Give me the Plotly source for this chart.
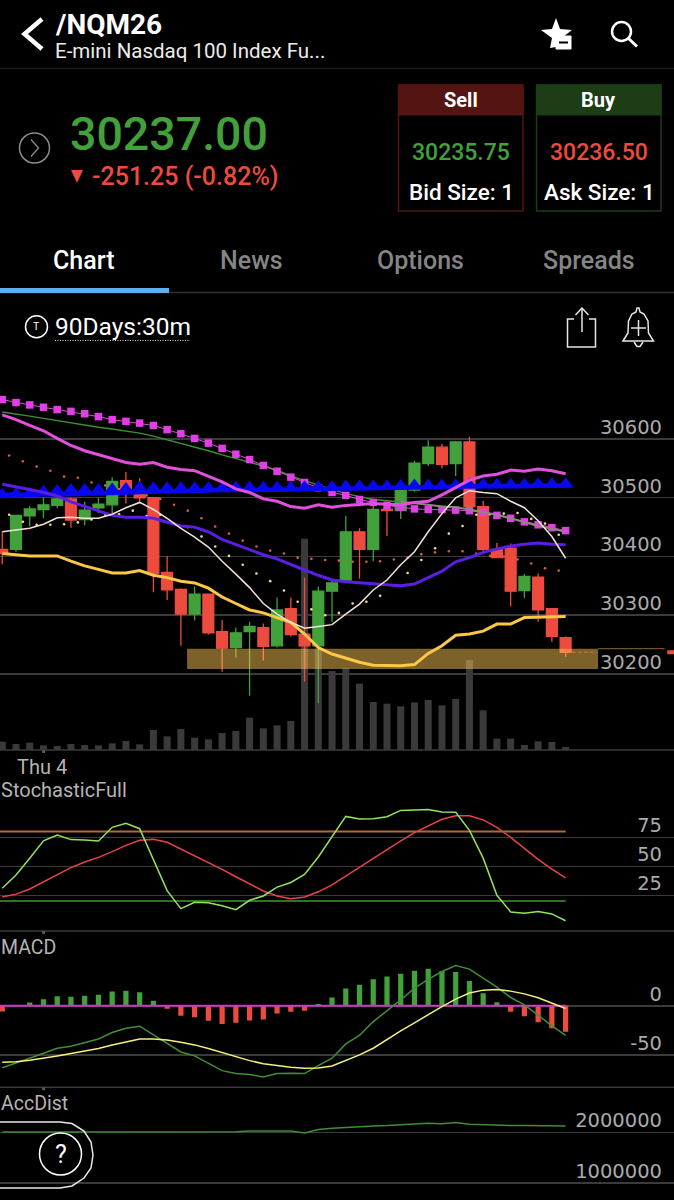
import plotly.graph_objects as go

W, H = 674, 1200

# ---- Price panel (30 minute bars) ----
candle_idx = list(range(-1, 41))
opens = [30412,30412,30469,30480,30487,30498,30463,30483,30488,30529,30508,30500,30373,30344,30302,30336,30272,30245,30272,30279,30248,30311,
         30268,30248,30341,30360,30442,30412,30480,30478,30513,30558,30586,30558,30595,30485,30412,30414,30342,30365,30311,30262]
highs = [30442,30470,30486,30500,30500,30500,30493,30500,30535,30544,30533,30500,30401,30346,30349,30336,30292,30279,30289,30286,30330,30330,
         30364,30349,30360,30469,30448,30487,30480,30513,30563,30598,30592,30597,30604,30495,30423,30422,30370,30371,30311,30264]
lows = [30387,30408,30451,30465,30482,30449,30453,30474,30474,30490,30490,30339,30326,30248,30291,30267,30204,30228,30163,30223,30245,30264,
        30187,30150,30289,30358,30362,30392,30435,30464,30510,30554,30550,30537,30483,30408,30397,30315,30329,30289,30255,30229]
closes = [30405,30470,30481,30488,30498,30462,30479,30489,30528,30516,30500,30371,30343,30302,30336,30270,30244,30270,30281,30247,30309,30267,
          30248,30341,30355,30442,30412,30480,30478,30513,30559,30586,30557,30595,30485,30412,30398,30341,30366,30309,30264,30237]
volume = [250,180,220,140,120,180,150,140,200,270,170,600,410,630,370,320,510,570,970,650,740,870,
          6340,3050,2370,2450,1990,1440,1390,1310,1430,1500,1340,1530,2700,1190,340,340,150,260,240,90]

squares = [30667,30662,30658,30654,30650,30647,30643,30638,30633,30630,30627,30623,30616,30609,30601,30593,30584,30574,30565,30555,30545,30535,
           30526,30517,30509,30504,30497,30492,30487,30484,30481,30480,30480,30479,30478,30475,30470,30465,30459,30454,30449,30444]
thin_green = [30646,30643,30639,30635,30631,30627,30623,30620,30617,30614,30610,30605,30599,30593,30587,30580,30573,30567,30560,30554,30547,30537,
              30529,30522,30514,30507,30502,30497,30495,30493]
thin_grey = [30493,30491,30488,30485,30484,30480,30476,30471,30465,30458,30452,30447,30442]
ma_magenta = [30641,30633,30623,30614,30601,30589,30580,30573,30567,30560,30557,30560,30552,30548,30546,30536,30527,30515,30509,30498,30494,30485,
              30482,30488,30484,30487,30488,30490,30489,30488,30492,30494,30505,30517,30530,30537,30540,30547,30545,30549,30546,30541]
ma_purple = [30523,30519,30514,30509,30503,30493,30485,30477,30470,30467,30467,30465,30459,30452,30450,30442,30429,30420,30411,30403,30396,30386,
             30377,30368,30360,30357,30355,30353,30351,30350,30353,30364,30375,30391,30398,30407,30413,30418,30421,30423,30421,30420]
ma_white = [30442,30445,30448,30455,30466,30467,30465,30465,30472,30483,30492,30480,30465,30448,30433,30416,30392,30370,30347,30320,30302,30288,
            30278,30281,30284,30302,30319,30343,30360,30386,30408,30442,30473,30500,30512,30509,30507,30494,30483,30461,30434,30397]
ma_yellow = [30405,30403,30401,30401,30401,30392,30384,30378,30372,30372,30376,30368,30364,30358,30355,30346,30331,30320,30309,30304,30296,30288,
             30268,30245,30234,30227,30220,30215,30214,30214,30216,30235,30248,30266,30268,30273,30285,30285,30296,30297,30298,30298]
blue_band = [30505,30505,30505,30506,30506,30506,30507,30507,30508,30509,30510,
             30510,30511,30511,30512,30512,30513,30513,30513,30514,30514,30514,
             30515,30515,30515,30516,30516,30516,30517,30517,30518,30518,
             30518,30519,30519,30519,30520,30520,30520,30521,30521,30521]
blue_tri = [30505,30506,30507,30510,30511,30513,30513,30513,30514,30515,30517,
            30516,30516,30516,30516,30516,30516,30517,30517,30517,30517,30517,
            30518,30518,30518,30519,30519,30519,30519,30520,30521,30521,
            30521,30521,30522,30522,30522,30522,30522,30523,30523,30523]
dot_idx = [i + 0.5 for i in range(-1, 40)]
dots_upper = [30572,30562,30553,30546,30536,30534,30526,30521,30515,30510,30504,30498,30488,30478,30465,30451,30439,30427,30417,30410,
              30405,30398,30396,30394,30393,30391,30391,30392,30395,30398,30404,30407,30409,30409,30405,30401,30400,30395,30388,30380,30376]
dots_lower = [30471,30459,30454,30454,30455,30458,30463,30471,30472,30478,30469,30471,30456,30450,30434,30417,30401,30386,30371,30358,
              30342,30323,30310,30300,30304,30320,30323,30333,30351,30372,30394,30414,30439,30452,30471,30472,30473,30474,30464,30456,30437]
zone_x = [12.45, 42.36, 42.36, 12.45]
zone_y = [30208.5, 30208.5, 30243, 30243]
last_price = 30237
price_ticks = [30200, 30300, 30400, 30500, 30600]

# ---- Stochastic ----
stoch_k = [31,42.5,57,72,77,73,72.7,71.8,83.6,87,82.4,55.4,29,13.5,19,18.6,16,12.6,20.7,24.4,32,36,
           43,58,75.5,93,90.8,91,92.8,98.2,98.5,99,96.8,96.5,81,57,25,10.6,9.5,10.9,8.9,3]
stoch_d = [23.5,26,30.4,36.5,42.8,48.8,53.7,57.7,62.6,68,72.4,73.2,70.7,65,59,53.4,47.4,41,34.7,28.7,24.4,22,
           23.5,28,34,41.6,49,56.9,64.6,72,79,85,90.5,93.6,93.6,90,83.6,75,65.5,56,47.6,40]
stoch_ticks = [25, 50, 75]
stoch_levels = [80, 20]

# ---- MACD ----
macd_hist = [-5.8,-0.7,3.4,6.8,9.9,9.2,10.2,11.2,14.6,15.3,13.9,5.1,-3,-10.2,-11.6,-15.3,-18.4,-17.3,-15,-14,-7.8,-6,
             -5,2,8.5,17.7,21.4,27.2,30,32.7,35.7,37.8,35.4,34.4,25.2,12.9,3.7,-6.1,-10.5,-16.7,-22.8,-26.5]
macd_line = [-63,-58.5,-53.4,-48.3,-43.2,-41.2,-37.8,-33.7,-27.2,-22.8,-20.7,-29.6,-38.8,-47,-51,-58.5,-66,-69,-70,-72.4,-69,-68.7,
             -69,-61,-53.4,-38.8,-30,-16,-5,6,18,27,35,41,37.4,28,19,8.5,1,-9.5,-20.4,-30]
macd_signal = [-57.5,-57,-55.4,-53.4,-51,-48.6,-46,-43.5,-40,-36.7,-33.7,-33.7,-34.7,-37,-39.8,-43.5,-47.6,-52,-55.8,-59,-61,-62.6,
               -63.6,-63.3,-61.2,-56,-50,-43.2,-34,-25.5,-17.3,-8.8,-0.7,6.8,13,16,16.7,15,12.2,8.2,3,-2.7]
macd_ticks = [-50, 0]

# ---- Accumulation / distribution ----
acc_dist = [2006000,2006000,2006000,2006000,2006000,2006000,2006000,2006000,2006000,2006000,2006000,2006000,2006000,2006000,2006000,2006000,2006000,
            2013000,2026000,2026000,2033000,2026000,1987000,2053000,2079000,2099000,2105000,2125000,2132000,2145000,2164000,2178000,2171000,2191000,
            2158000,2145000,2132000,2132000,2132000,2132000,2125000,2125000]
acc_ticks = [1000000, 2000000]

GREEN = "#42a13b"
RED = "#ee4b3f"
GRID = "#3b3b3b"
AXIS_TEXT = "#ababab"
AXIS_FONT = dict(family="DejaVu Sans", size=19.5, color=AXIS_TEXT)


def fy(py):
    return 1 - py / H


def fx(px):
    return px / W


fig = go.Figure()

# Volume sits on the base axis so the price axis overlays it.
fig.add_bar(x=candle_idx, y=volume, width=0.51, marker=dict(color="#3a3a3a", line_width=0), xaxis="x", yaxis="y")

fig.add_candlestick(
    x=candle_idx, open=opens, high=highs, low=lows, close=closes,
    increasing=dict(line=dict(color=GREEN, width=1.3), fillcolor=GREEN),
    decreasing=dict(line=dict(color=RED, width=1.3), fillcolor=RED),
    whiskerwidth=0, xaxis="x", yaxis="y2",
)


def price_line(y, color, width, x=None, **kw):
    fig.add_scatter(x=x if x is not None else candle_idx, y=y, mode="lines",
                    line=dict(color=color, width=width, **kw), xaxis="x", yaxis="y2")


fig.add_scatter(x=dot_idx, y=dots_upper, mode="markers", marker=dict(color="#d2603f", size=2.6), xaxis="x", yaxis="y2")
fig.add_scatter(x=dot_idx, y=dots_lower, mode="markers", marker=dict(color="#f0dc8c", size=2.6), xaxis="x", yaxis="y2")

# Demand zone: translucent so the candles and volume show through it.
fig.add_scatter(x=zone_x, y=zone_y, mode="lines", fill="toself", line=dict(width=0),
                fillcolor="rgba(255,198,86,0.49)", xaxis="x", yaxis="y2")
price_line([zone_y[2], zone_y[2]], "#6d5527", 1.2, x=[42.36, 47.2])

price_line(thin_green, "#3f8f36", 1.4, x=candle_idx[:30])
price_line(squares, "#d050d0", 1)
fig.add_scatter(x=candle_idx, y=squares, mode="markers",
                marker=dict(symbol="square", color="#e23ee6", size=7.5, line_width=0), xaxis="x", yaxis="y2")
price_line(thin_grey, "#8a8a7a", 2, x=candle_idx[29:])
price_line(blue_band, "#0808f0", 4.5)
fig.add_scatter(x=candle_idx, y=blue_tri, mode="markers",
                marker=dict(symbol="triangle-up", color="#0808f0", size=14, line_width=0), xaxis="x", yaxis="y2")
price_line(ma_yellow, "#fcc846", 3)
price_line(ma_purple, "#5a1ee6", 3)
price_line(ma_magenta, "#e050dd", 3)
price_line(ma_white, "#f4e2da", 1.5)
price_line([last_price, last_price], "#e8743f", 1.2, x=[40.5, 42.3], dash="3px,3px")
price_line([last_price, last_price], RED, 4, x=[47.4, 47.9])

# Stochastic panel
for level, color, width in zip(stoch_levels, ["#b0683a", "#3f9a30"], [2, 1.5]):
    fig.add_scatter(x=[-1.17, 40], y=[level, level], mode="lines", line=dict(color=color, width=width), xaxis="x", yaxis="y3")
fig.add_scatter(x=candle_idx, y=stoch_d, mode="lines", line=dict(color="#e8434a", width=1.5), xaxis="x", yaxis="y3")
fig.add_scatter(x=candle_idx, y=stoch_k, mode="lines", line=dict(color="#93e35c", width=1.5), xaxis="x", yaxis="y3")

# MACD panel
fig.add_bar(x=candle_idx, y=macd_hist, width=0.38,
            marker=dict(color=[GREEN if v > 0 else RED for v in macd_hist], line_width=0), xaxis="x", yaxis="y4")
fig.add_scatter(x=[-1.17, 40], y=[0, 0], mode="lines", line=dict(color="#c63cc0", width=2), xaxis="x", yaxis="y4")
fig.add_scatter(x=candle_idx, y=macd_line, mode="lines", line=dict(color="#3f8f36", width=1.5), xaxis="x", yaxis="y4")
fig.add_scatter(x=candle_idx, y=macd_signal, mode="lines", line=dict(color="#f4f078", width=1.5), xaxis="x", yaxis="y4")

# AccDist panel
fig.add_scatter(x=candle_idx, y=acc_dist, mode="lines", line=dict(color="#3f8f36", width=1.5), xaxis="x", yaxis="y5")


def value_axis(top, bottom, vmin, vmax, ticks, **kw):
    base = dict(domain=[fy(bottom), fy(top)], range=[vmin, vmax], tickmode="array", tickvals=ticks,
                ticktext=[str(t) for t in ticks],
                showgrid=True, gridcolor=GRID, gridwidth=1.5, zeroline=False, showline=False, anchor="x", side="right",
                ticklabelposition="inside", tickfont=AXIS_FONT, ticks="", ticklabelshift=-12, ticklabelstandoff=9,
                ticklabeloverflow="allow", fixedrange=True)
    base.update(kw)
    return base


fig.update_layout(
    width=W, height=H, autosize=False,
    margin=dict(l=0, r=0, t=0, b=0),
    paper_bgcolor="#000000", plot_bgcolor="#000000",
    showlegend=False, barmode="overlay", boxgap=0.11, boxgroupgap=0.11,
    hovermode=False,
    xaxis=dict(domain=[0, 1], range=[-1.1645, 47.888], visible=False, rangeslider=dict(visible=False), fixedrange=True),
    yaxis=dict(domain=[fy(750), fy(390)], range=[0, 10800], visible=False, fixedrange=True),
    yaxis2=value_axis(390, 750, 30070.6, 30683.4, price_ticks, overlaying="y"),
    yaxis3=value_axis(780, 931, -5.8, 124.4, stoch_ticks),
    yaxis4=value_axis(945, 1087.3, -83, 62, macd_ticks),
    yaxis5=value_axis(1100, 1200, 664700, 2637000, acc_ticks),
)

# ---- App chrome around the chart ----
shapes = []


def line(x0, y0, x1, y1, color, width=1.5, **kw):
    shapes.append(dict(type="line", xref="paper", yref="paper", x0=fx(x0), y0=fy(y0), x1=fx(x1), y1=fy(y1),
                       line=dict(color=color, width=width, **kw)))


def rect(x0, y0, x1, y1, fill=None, color=None, width=1.5):
    shapes.append(dict(type="rect", xref="paper", yref="paper", x0=fx(x0), y0=fy(y0), x1=fx(x1), y1=fy(y1),
                       fillcolor=fill or "rgba(0,0,0,0)", line=dict(color=color or "rgba(0,0,0,0)", width=width)))


def circle(cx, cy, r, color, width=1.5):
    shapes.append(dict(type="circle", xref="paper", yref="paper", x0=fx(cx - r), y0=fy(cy + r), x1=fx(cx + r), y1=fy(cy - r),
                       line=dict(color=color, width=width), fillcolor="rgba(0,0,0,0)"))


def poly(points, color=None, width=1.5, fill=None, close=False):
    d = "M " + " L ".join(f"{fx(x):.5f},{fy(y):.5f}" for x, y in points)
    if close:
        d += " Z"
    shapes.append(dict(type="path", xref="paper", yref="paper", path=d, fillcolor=fill or "rgba(0,0,0,0)",
                       line=dict(color=color or "rgba(0,0,0,0)", width=width)))


# Panel separators with the day tick
for y in (750, 931, 1087.3):
    line(0, y, W, y, GRID, 1.5)
    line(43.5, y, 43.5, y + 3, "#555555", 3)

# Header
poly([(42, 19), (24.5, 34), (42, 49)], "#ffffff", 4.5)
poly([(556, 18), (560, 29), (572, 30), (563, 37), (556, 37), (556, 47), (550, 48), (552, 38), (541, 30), (552, 29)],
     fill="#ffffff", width=0, close=True)
rect(556, 36, 571, 49, fill="#ffffff", color="#ffffff", width=1)
line(559, 42.5, 568, 42.5, "#000000", 2)
circle(621.5, 31.5, 9.5, "#ffffff", 2.5)
line(628.5, 38.5, 637, 46.5, "#ffffff", 3)
line(0, 68.5, W, 68.5, "#1c1c1c", 1.5)

# Quote block
circle(34.5, 148, 15, "#8c8c8c", 1.5)
poly([(31, 139.5), (38.5, 148), (31, 156.5)], "#8c8c8c", 1.3)
poly([(71, 170), (83, 170), (77, 183)], fill=RED, width=0, close=True)

rect(398.5, 85, 523, 211, color="#541412", width=1.5)
rect(398.5, 85, 523, 115, fill="#541412", color="#541412", width=1)
rect(536.5, 85, 661, 211, color="#1c3d16", width=1.5)
rect(536.5, 85, 661, 115, fill="#1c3d16", color="#1c3d16", width=1)

# Tabs
line(0, 292.5, W, 292.5, "#333333", 1.5)
rect(0, 288, 169, 293, fill="#5ab0f0", width=0)

# Range selector and action icons
circle(36.5, 326.7, 11, "#ffffff", 1.5)
line(55, 340.5, 190, 340.5, "#d8d8d8", 1.2, dash="1px,1.5px")
poly([(574, 319), (567.5, 319), (567.5, 347), (595.5, 347), (595.5, 319), (589, 319)], "#e6e6e6", 1.5)
line(582, 309, 582, 332, "#e6e6e6", 1.5)
poly([(575.5, 315), (582, 308), (588.5, 315)], "#e6e6e6", 1.5)
poly([(623, 341), (628, 333), (628.5, 321), (632, 314), (636, 312), (637, 308), (639, 308), (640, 312), (644, 314),
      (648, 321), (648.5, 333), (653.5, 341)], "#e6e6e6", 1.5, close=True)
line(631, 328, 646, 328, "#e6e6e6", 1.5)
line(638.5, 320, 638.5, 336, "#e6e6e6", 1.5)
poly([(634, 342), (637, 346.5), (640, 346.5), (643, 342)], "#e6e6e6", 1.5)

# Help button
poly([(0, 1122), (60, 1122), (72, 1123.5), (84, 1131), (91, 1142), (93, 1155), (91, 1168), (84, 1178), (72, 1186),
      (60, 1188), (0, 1188)], "#e8e8e8", 1.5)
circle(60.5, 1154, 21, "#ffffff", 1.5)

fig.update_layout(shapes=shapes)

annotations = []


def label(px, py, text, size, color="#ffffff", anchor="left", weight=400, family="Roboto"):
    annotations.append(dict(xref="paper", yref="paper", x=fx(px), y=fy(py), text=text,
                            showarrow=False, xanchor=anchor, yanchor="middle", align=anchor,
                            font=dict(family=family, size=size, color=color, weight=weight), borderpad=0))


label(54, 24, "/NQM26", 28, weight=700)
label(54, 51, "E-mini Nasdaq 100 Index Fu...", 20.5, "#ececec")
label(69, 134, "30237.00", 46.5, GREEN, weight=500)
label(91, 176, "-251.25 (-0.82%)", 25, RED, weight=500)
label(460.5, 100, "Sell", 20, anchor="center", weight=700)
label(460.5, 153, "30235.75", 23, GREEN, anchor="center", weight=500)
label(461, 192, "Bid Size: 1", 22.5, anchor="center", weight=500)
label(598.5, 100, "Buy", 20, anchor="center", weight=700)
label(598.5, 153, "30236.50", 23, RED, anchor="center", weight=500)
label(599, 192, "Ask Size: 1", 22.5, anchor="center", weight=500)
label(83, 260, "Chart", 25, anchor="center", weight=500)
label(252, 260, "News", 25, "#858585", anchor="center", weight=500)
label(420.5, 260, "Options", 25, "#858585", anchor="center", weight=500)
label(589, 260, "Spreads", 25, "#858585", anchor="center", weight=500)
label(36.5, 327, "T", 10.5, anchor="center")
label(54, 327, "90Days:30m", 24.5)
label(16, 767, "Thu 4", 20, "#b4b4b4")
label(0, 790, "StochasticFull", 20, "#b4b4b4")
label(0, 947, "MACD", 19.5, "#b4b4b4")
label(0, 1103, "AccDist", 19.5, "#b4b4b4")
label(60.5, 1154, "?", 25, anchor="center")

fig.update_layout(annotations=annotations)

fig.write_html("out.html", config=dict(displayModeBar=False, staticPlot=True))
